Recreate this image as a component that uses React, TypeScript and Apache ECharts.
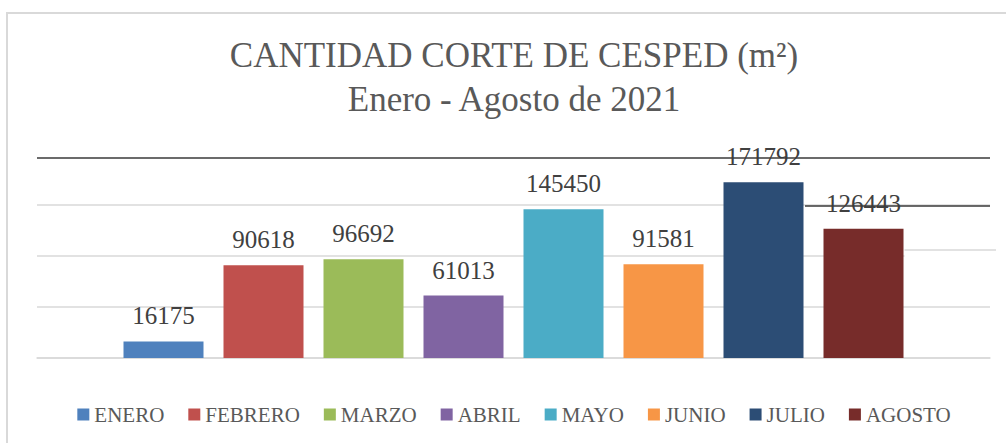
import React, { useEffect, useRef } from "react";
import * as echarts from "echarts";

const months = ["ENERO", "FEBRERO", "MARZO", "ABRIL", "MAYO", "JUNIO", "JULIO", "AGOSTO"];
const values = [16175, 90618, 96692, 61013, 145450, 91581, 171792, 126443];
const colors = ["#4F81BD", "#C0504D", "#9BBB59", "#8064A2", "#4BACC6", "#F79646", "#2C4D75", "#772C2A"];
const titleLines = ["CANTIDAD CORTE DE CESPED (m²)", "Enero - Agosto de 2021"];
const yMax = 200000;
const yInterval = 50000;

const FONT = "Liberation Serif";

export default function App() {
  const ref = useRef<HTMLDivElement>(null);
  useEffect(() => {
    if (!ref.current) return;
    const chart = echarts.init(ref.current, undefined, { renderer: "svg" });
    const series = months.map((m, i) => ({
      name: m,
      type: "bar",
      data: [values[i]],
      barWidth: 80,
      barGap: "25%",
      itemStyle: { color: colors[i] },
      label: {
        show: true,
        position: "top",
        distance: 13,
        fontFamily: FONT,
        fontSize: 25,
        color: "#404040",
      },
    }));
    chart.setOption({
      animation: false,
      textStyle: { fontFamily: FONT },
      title: {
        text: titleLines.join("\n"),
        left: "center",
        top: 28,
        textStyle: {
          fontFamily: FONT,
          fontSize: 35,
          fontWeight: "normal",
          color: "#595959",
          lineHeight: 44,
        },
      },
      legend: {
        data: months,
        left: "center",
        top: 399,
        icon: "rect",
        itemWidth: 12,
        itemHeight: 12,
        itemGap: 24,
        textStyle: { fontFamily: FONT, fontSize: 21, color: "#595959" },
      },
      grid: { left: 37, right: 38, top: 153.5, bottom: 85, containLabel: false },
      xAxis: {
        type: "category",
        data: [""],
        axisLine: { show: true, lineStyle: { color: "#d9d9d9", width: 1.5 } },
        axisTick: { show: false },
        axisLabel: { show: false },
      },
      yAxis: {
        type: "value",
        min: 0,
        max: yMax,
        interval: yInterval,
        axisLabel: { show: false },
        axisLine: { show: false },
        axisTick: { show: false },
        splitLine: {
          lineStyle: {
            color: ["#d9d9d9", "#d9d9d9", "#d9d9d9", "#d9d9d9", "rgba(0,0,0,0)"],
            width: 1.5,
          },
        },
      },
      graphic: [
        {
          type: "rect",
          shape: { x: 7, y: 13, width: 2000, height: 1000 },
          style: { fill: "none", stroke: "#d9d9d9", lineWidth: 2 },
          silent: true,
          z: 0,
        },
        {
          type: "rect",
          shape: { x: 904.5, y: 254, width: 90, height: 4 },
          style: { fill: "#ffffff" },
          silent: true,
          z: 50,
        },
        {
          type: "line",
          shape: { x1: 904.5, y1: 250, x2: 996, y2: 250 },
          style: { stroke: "#d9d9d9", lineWidth: 1.5 },
          silent: true,
          z: 51,
        },
        {
          type: "line",
          shape: { x1: 37, y1: 158, x2: 990, y2: 158 },
          style: { stroke: "#3a3a3a", lineWidth: 1.5 },
          z: 100,
        },
        {
          type: "line",
          shape: { x1: 805, y1: 206, x2: 990, y2: 206 },
          style: { stroke: "#3a3a3a", lineWidth: 1.5 },
          z: 100,
        },
      ],
      series,
    });
    return () => chart.dispose();
  }, []);
  return (
    <div style={{ position: "fixed", left: 0, top: 0, width: 1006, height: 443, overflow: "hidden", background: "#fff" }}>
      <div ref={ref} style={{ width: 1028, height: 443 }} />
    </div>
  );
}
